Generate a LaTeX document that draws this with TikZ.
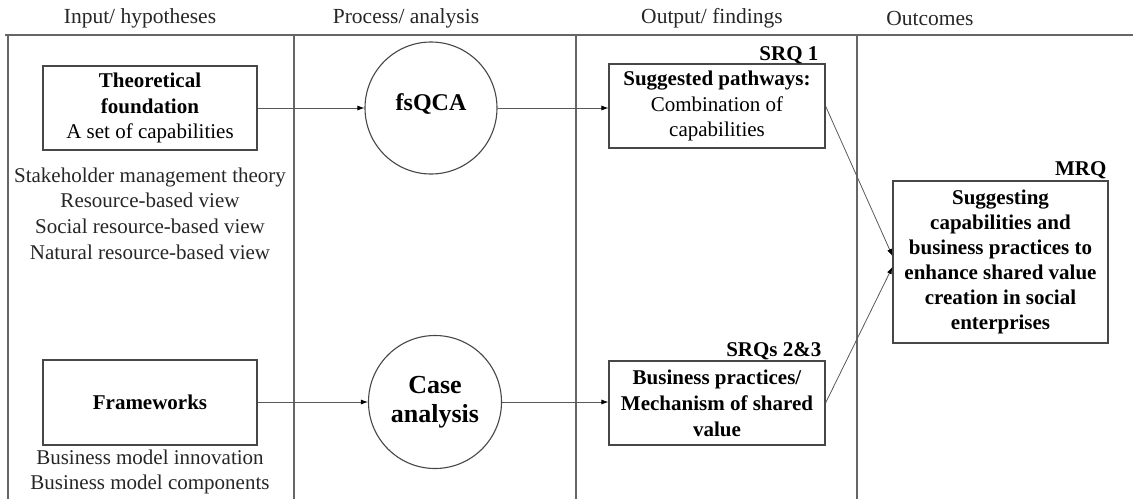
\documentclass[tikz,border=0pt]{standalone}
\usepackage{fontspec}
\setmainfont{Liberation Serif}
\usetikzlibrary{arrows.meta}
\begin{document}
\begin{tikzpicture}[x=1pt,y=-1pt,
  colline/.style={draw=black!60,line width=1.4pt},
  box/.style={draw=black!72,line width=1.1pt,rectangle,align=center,inner sep=0pt,
    font=\fontsize{21}{25.5}\selectfont},
  proc/.style={draw=black!72,line width=1.1pt,circle,align=center,inner sep=0pt,minimum size=132pt},
  plain/.style={align=center,inner sep=0pt,font=\fontsize{21}{25.7}\selectfont,text=black!85},
  head/.style={inner sep=0pt,font=\fontsize{21.5}{26}\selectfont,text=black!85},
  tag/.style={inner sep=0pt,font=\fontsize{21}{25}\selectfont\bfseries},
  flow/.style={draw=black!65,line width=0.8pt,-{Latex[length=7pt,width=5pt,color=black]}}]
\useasboundingbox (0,0) rectangle (1133,499);

% column headers
\node[head] (h1) at (140,18) {Input/ hypotheses};
\node[head] (h2) at (406,18) {Process/ analysis};
\node[head] (h3) at (712,18) {Output/ findings};
\node[head] (h4) at (930,18) {Outcomes};

% column frame
\draw[colline] (5,35) -- (1133,35);
\draw[colline] (8,35) -- (8,499);
\draw[colline] (294,35) -- (294,499);
\draw[colline] (576,35) -- (576,499);
\draw[colline] (857,35) -- (857,499);

% inputs
\node[box,minimum width=214pt,minimum height=84pt] (theo) at (150,108)
  {\textbf{Theoretical}\\\textbf{foundation}\\A set of capabilities};
\node[plain] (theolist) at (150,213.5)
  {Stakeholder management theory\\Resource-based view\\Social resource-based view\\Natural resource-based view};
\node[box,minimum width=214pt,minimum height=85pt] (frame) at (150,402.5)
  {\textbf{Frameworks}};
\node[plain] (framelist) at (150,472)
  {Business model innovation\\Business model components};

% process
\node[proc] (fsqca) at (431,108) {};
\node[font=\fontsize{24}{28}\selectfont\bfseries,inner sep=0pt] (fsqcatext) at ([yshift=4pt]fsqca.center) {fsQCA};
\node[proc,minimum size=133pt,font=\fontsize{26}{29}\selectfont\bfseries] (case) at (435,402) {Case\\analysis};

% findings
\node[box,minimum width=216pt,minimum height=84pt] (sugg) at (717,106)
  {\textbf{Suggested pathways:}\\Combination of\\capabilities};
\node[box,minimum width=216pt,minimum height=84pt,font=\fontsize{21}{26}\selectfont\bfseries] (bus) at (717,403)
  {Business practices/\\Mechanism of shared\\value};
\node[tag,anchor=base east] (srq1) at ([xshift=-7pt,yshift=2.5pt]sugg.north east) {SRQ 1};
\node[tag,anchor=base east] (srq23) at ([xshift=-4pt,yshift=4pt]bus.north east) {SRQs 2\&3};

% outcome
\node[box,minimum width=215pt,minimum height=162pt,font=\fontsize{21}{25}\selectfont\bfseries] (mrq) at (1000.5,262)
  {Suggesting\\capabilities and\\business practices to\\enhance shared value\\creation in social\\enterprises};
\node[tag,anchor=base east] (mrqtag) at ([xshift=-2pt,yshift=5pt]mrq.north east) {MRQ};

% connectors
\draw[flow] (theo.east) -- (fsqca.west);
\draw[flow] (frame.east |- case.west) -- (case.west);
\draw[flow] (fsqca.east) -- (sugg.west |- fsqca.east);
\draw[flow] (case.east) -- (bus.west |- case.east);
\draw[flow] (sugg.east) -- ([yshift=6pt]mrq.west);
\draw[flow] (bus.east) -- ([yshift=-5pt]mrq.west);
\end{tikzpicture}
\end{document}
